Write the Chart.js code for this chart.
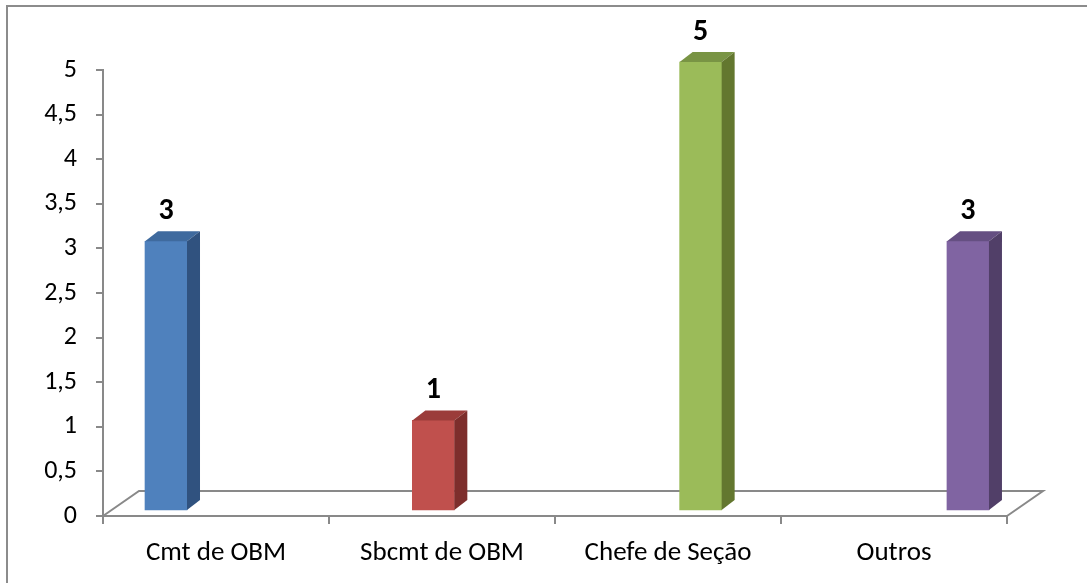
<!DOCTYPE html>
<html>
<head>
<meta charset="utf-8">
<script src="https://cdn.jsdelivr.net/npm/chart.js@4"></script>
<style>
body{margin:0;overflow:hidden;background:#fff;}
#frame{position:absolute;left:6px;top:5px;width:1200px;height:700px;border:2px solid #8c8c8c;box-sizing:border-box;}
#chart{position:absolute;left:0;top:0;}
</style>
</head>
<body>
<div id="frame"></div>
<canvas id="chart" width="1087" height="583"></canvas>
<script>
const categories=["Cmt de OBM","Sbcmt de OBM","Chefe de Seção","Outros"];
const values=[3,1,5,3];
const frontColors=["#4F81BD","#C0504D","#9BBB59","#8064A2"];
const topColors=["#3F6A9E","#9B3C3A","#799444","#654F82"];
const sideColors=["#30527F","#7D2E2C","#63772F","#513F68"];

const FONT="Carlito, Calibri, Lato, sans-serif";
const GRAY="#898989";

// floor of the 3D plot (back edge and sides)
const floorPlugin={
id:"floor",
beforeDatasetsDraw(chart){
const a=chart.chartArea,ctx=chart.ctx;
const dx=36,dy=-25;
ctx.save();
ctx.strokeStyle=GRAY;
ctx.lineWidth=2;
ctx.beginPath();
ctx.moveTo(a.left,a.bottom);
ctx.lineTo(a.left+dx,a.bottom+dy);
ctx.lineTo(a.right+dx,a.bottom+dy);
ctx.lineTo(a.right,a.bottom);
ctx.stroke();
ctx.restore();
}
};

// top and side faces of the bars + value labels
const bar3dPlugin={
id:"bar3d",
afterDatasetsDraw(chart){
const ctx=chart.ctx;
const dx=13,dy=-10;
chart.getDatasetMeta(0).data.forEach((bar,i)=>{
const p=bar.getProps(["x","y","base","width"],true);
const l=p.x-p.width/2,r=p.x+p.width/2,t=p.y,b=p.base;
ctx.save();
ctx.fillStyle=topColors[i];
ctx.beginPath();
ctx.moveTo(l,t);ctx.lineTo(r,t);ctx.lineTo(r+dx,t+dy);ctx.lineTo(l+dx,t+dy);
ctx.closePath();ctx.fill();
ctx.fillStyle=sideColors[i];
ctx.beginPath();
ctx.moveTo(r,t);ctx.lineTo(r+dx,t+dy);ctx.lineTo(r+dx,b+dy);ctx.lineTo(r,b);
ctx.closePath();ctx.fill();
ctx.fillStyle="#000";
ctx.font="bold 30px "+FONT;
ctx.textAlign="center";
ctx.textBaseline="alphabetic";
ctx.fillText(String(values[i]),p.x,t-22);
ctx.restore();
});
}
};

new Chart(document.getElementById("chart"),{
type:"bar",
data:{
labels:categories,
datasets:[{
data:values.map((v,i)=>({x:i,y:v})),
xAxisID:"x2",
yAxisID:"y2",
backgroundColor:frontColors,
barThickness:42,
clip:false
}]
},
options:{
responsive:false,
animation:false,
layout:{padding:{left:0,right:80,top:70,bottom:0}},
plugins:{legend:{display:false},tooltip:{enabled:false}},
scales:{
x:{
type:"category",
position:"bottom",
offset:true,
grid:{offset:true,drawOnChartArea:false,tickLength:8,color:GRAY,lineWidth:2},
border:{color:GRAY,width:2},
ticks:{color:"#000",font:{family:FONT,size:27},padding:13,maxRotation:0},
afterFit(s){s.height=67;}
},
y:{
type:"linear",
position:"left",
min:0,max:5,
grid:{drawOnChartArea:false,tickLength:7,color:GRAY,lineWidth:2},
border:{color:GRAY,width:2},
ticks:{stepSize:0.5,color:"#000",font:{family:FONT,size:26},padding:19,
callback:v=>String(v).replace(".",",")},
afterFit(s){s.width=103;}
},
x2:{type:"linear",display:false,offset:false,min:-0.2357,max:3.146},
y2:{type:"linear",display:false,min:-0.067,max:4.911}
}
},
plugins:[floorPlugin,bar3dPlugin]
});
</script>
</body>
</html>
